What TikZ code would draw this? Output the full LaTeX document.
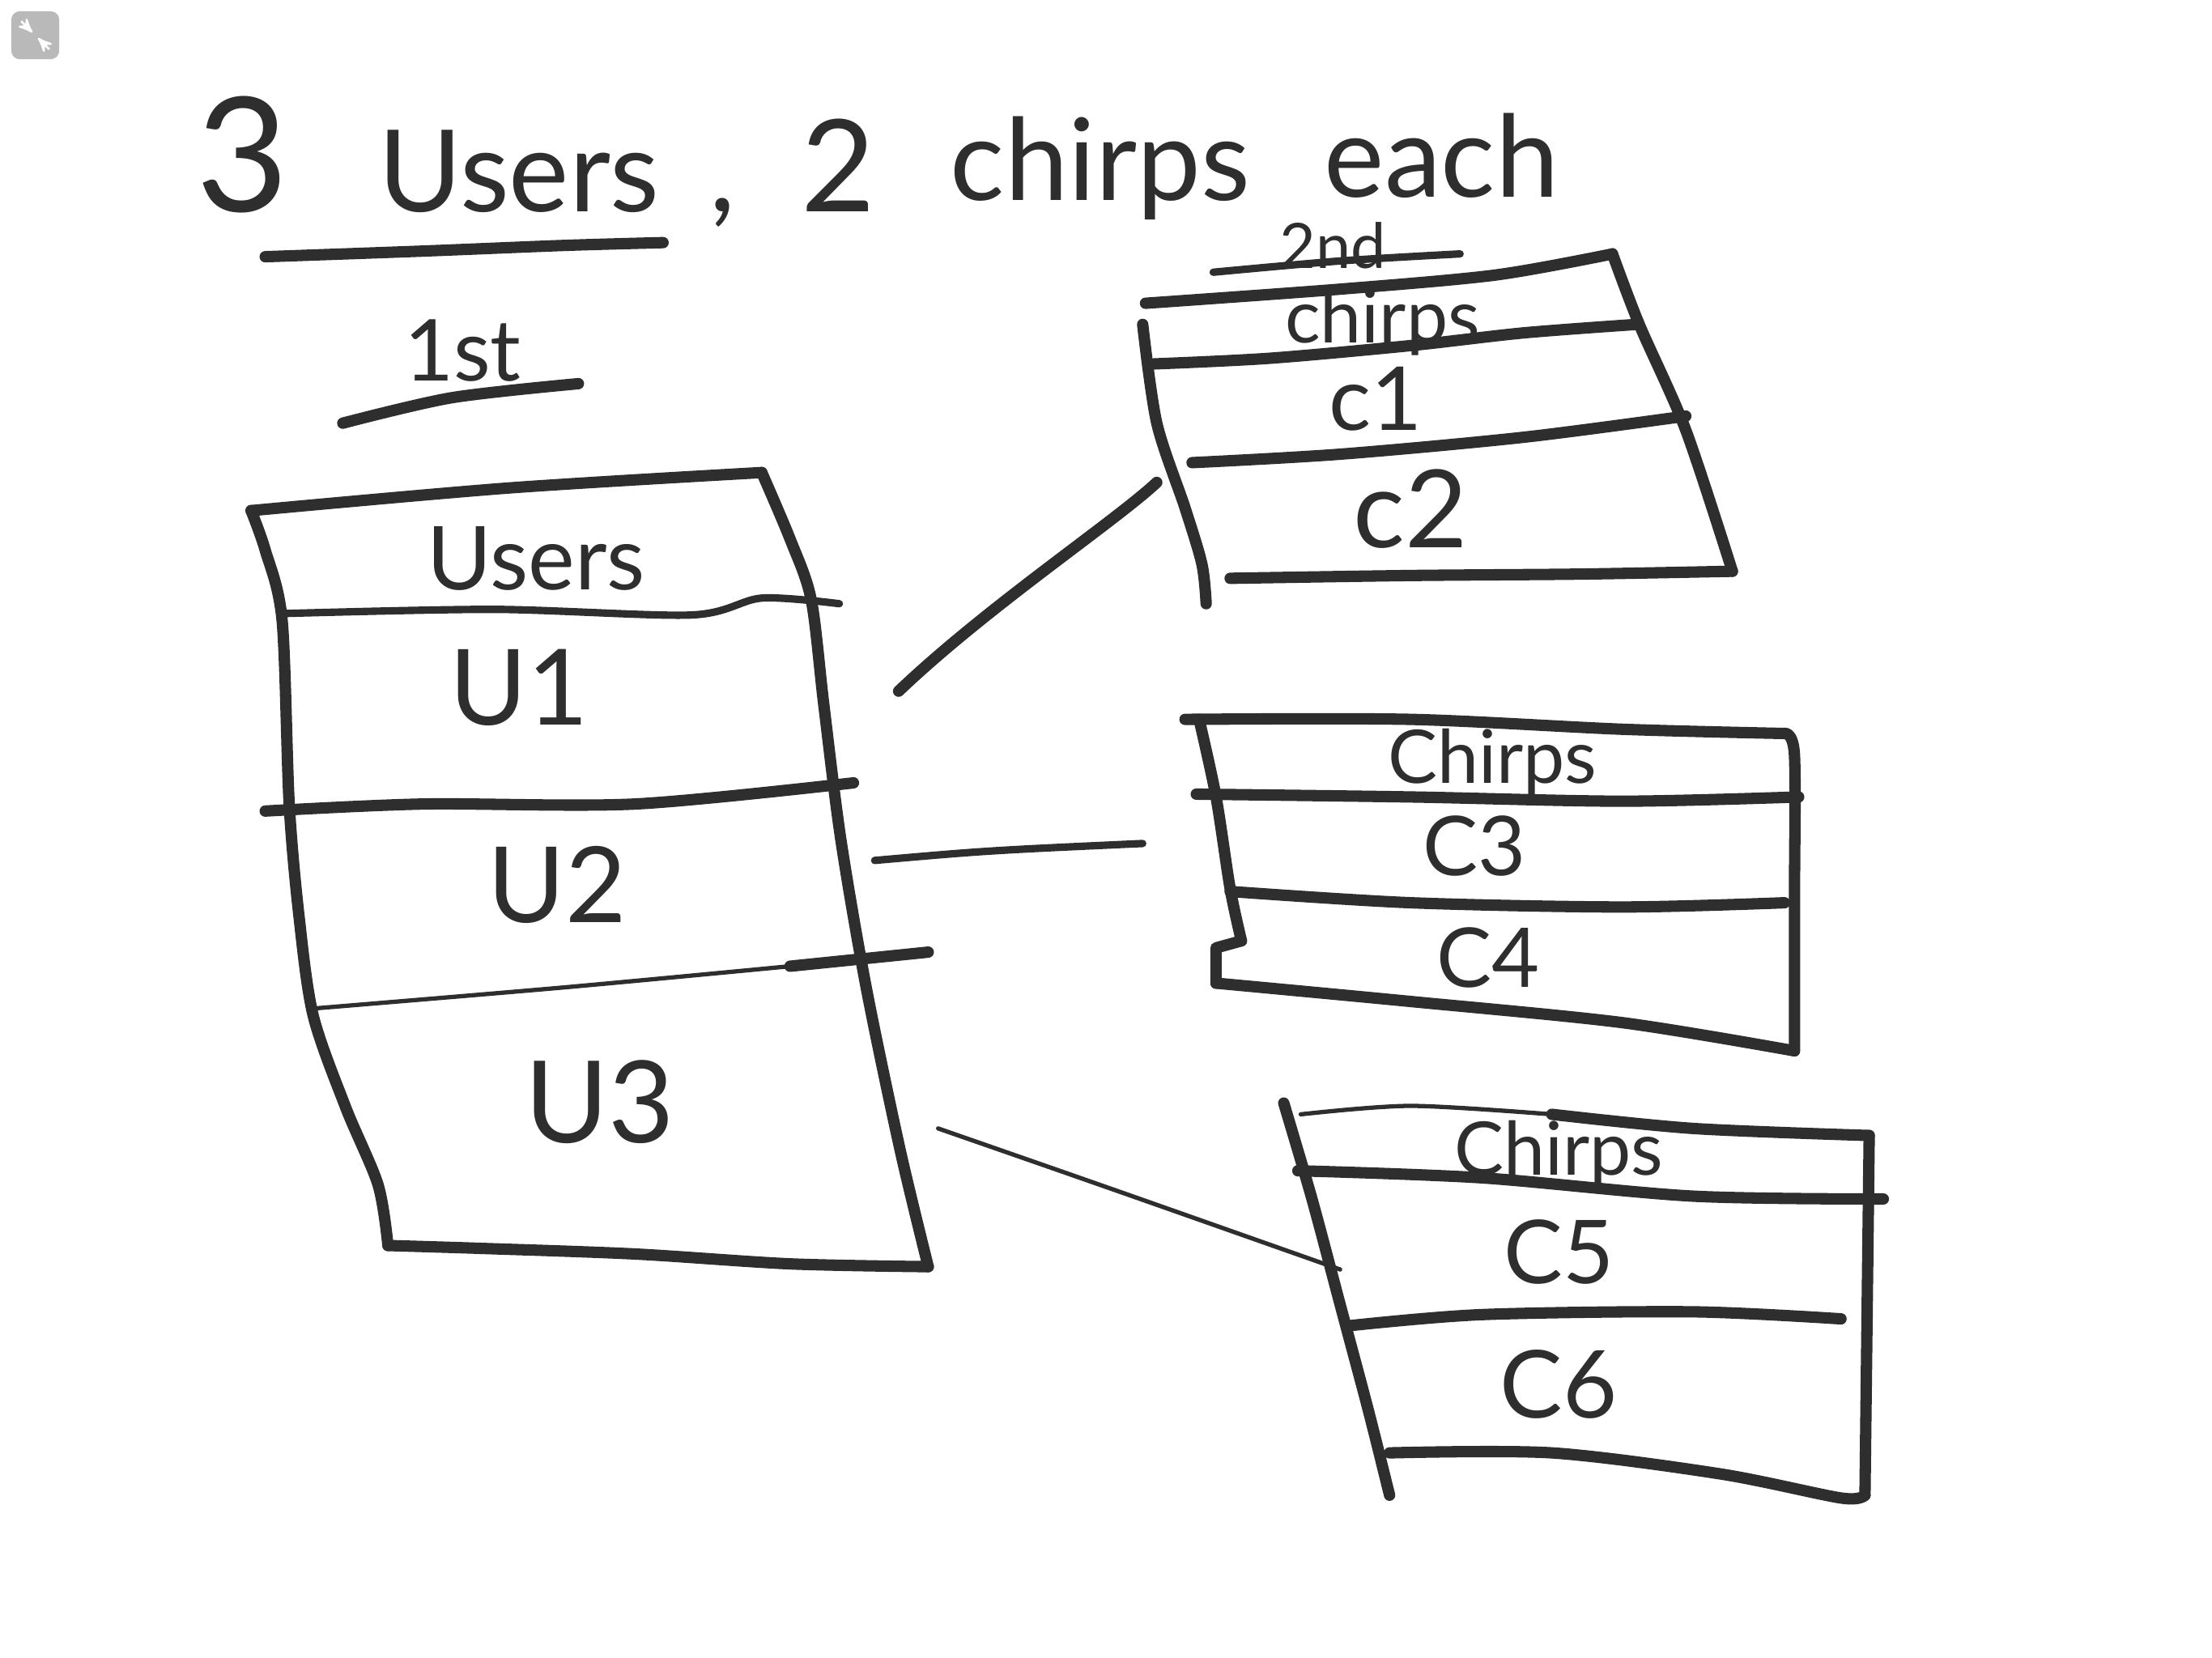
\documentclass[tikz,border=0pt]{standalone}
\usepackage{fontspec}
\setmainfont{Lato}
\usetikzlibrary{arrows}
\definecolor{ink}{HTML}{2E2E2E}
\tikzset{
	pen_thick/.style = {
		draw=ink,
		line width=4pt,
		line cap=round,
		line join=round
	},
	pen_mid/.style = {
		pen_thick,
		line width=2.6pt
	},
	pen_thin/.style = {
		pen_thick,
		line width=1.5pt
	},
	hand/.style = {
		text=ink,
		inner sep=0pt,
		anchor=base
	},
	hand_title/.style = {
		hand,
		font=\fontsize{40}{44}\selectfont
	},
	hand_cell/.style = {
		hand,
		font=\fontsize{31}{34}\selectfont
	},
	hand_head/.style = {
		hand,
		font=\fontsize{26}{28}\selectfont
	},
	hand_small/.style = {
		hand,
		font=\fontsize{22}{24}\selectfont
	},
}
\begin{document}
\begin{tikzpicture}[x=0.017423cm, y=-0.017423cm]
\useasboundingbox (0,0) rectangle (1568,1175);
\fill[white] (0,0) rectangle (1568,1175);
% window icon
\fill[gray!55, rounded corners=3pt] (8,8) rectangle (42,42);
\draw[white, line width=0.8pt, ->, >=stealth'] (15,15) -- (23,23);
\draw[white, line width=0.8pt, ->, >=stealth'] (35,35) -- (27,27);

% title
\node[hand_title, font=\fontsize{56}{60}\selectfont] (t_three) at (172,150) {3};
\node[hand_title] (t_users) at (368,150) {Users};
\node[hand_title] (t_comma) at (512,150) {,};
\node[hand_title, font=\fontsize{45}{48}\selectfont] (t_two) at (594,150) {2};
\node[hand_title] (t_chirps) at (780,142) {chirps};
\node[hand_title] (t_each) at (1022,140) {each};
\draw[pen_thick] plot[smooth] coordinates {(188,182) (300,178) (400,174) (470,172)};

% 1st: users table
\node[hand_title, font=\fontsize{30}{32}\selectfont] (l_first) at (328,270) {1st};
\draw[pen_thick] plot[smooth] coordinates {(243,300) (320,282) (410,272)};
\draw[pen_thick] plot[smooth] coordinates {(178,362) (360,346) (540,335)};
\draw[pen_thick] plot[smooth] coordinates {(540,335) (560,382) (575,425) (584,500) (596,595) (614,700) (638,815) (658,898)};
\draw[pen_thick] plot[smooth] coordinates {(658,898) (560,896) (450,889) (340,885) (275,883)};
\draw[pen_thick] plot[smooth] coordinates {(275,883) (268,840) (245,785) (222,720) (212,650) (205,570) (200,440) (188,390) (178,362)};
\draw[pen_mid] plot[smooth] coordinates {(200,435) (350,432) (490,436) (540,424) (595,428)};
\draw[pen_thick] plot[smooth] coordinates {(188,575) (300,570) (450,570) (605,555)};
\draw[pen_thin] plot[smooth] coordinates {(222,715) (400,700) (560,685)};
\draw[pen_thick] (560,685) -- (658,675);
\node[hand_cell] (u_head) at (380,418) {Users};
\node[hand_cell, font=\fontsize{37}{40}\selectfont] (u_one) at (368,514) {U1};
\node[hand_cell, font=\fontsize{37}{40}\selectfont] (u_two) at (395,654) {U2};
\node[hand_cell, font=\fontsize{40}{42}\selectfont] (u_three) at (425,810) {U3};

% 2nd: chirps tables
\node[hand_small] (l_second) at (945,190) {2nd};
\draw[pen_mid] plot[smooth] coordinates {(860,193) (950,185) (1035,180)};
% chirps c1 c2
\draw[pen_thick] plot[smooth] coordinates {(812,215) (950,205) (1060,195) (1143,180)};
\draw[pen_thick] plot[smooth] coordinates {(1143,180) (1162,230) (1195,305) (1228,405)};
\draw[pen_thick] plot[smooth] coordinates {(872,410) (1000,408) (1120,407) (1228,405)};
\draw[pen_thick] plot[smooth] coordinates {(810,230) (820,300) (840,360) (852,400) (855,428)};
\draw[pen_thick] plot[smooth] coordinates {(818,258) (900,254) (1000,245) (1080,236) (1160,230)};
\draw[pen_thick] plot[smooth] coordinates {(845,328) (950,322) (1080,310) (1195,295)};
\node[hand_head] (c_head_one) at (980,243) {chirps};
\node[hand_cell] (c_one) at (975,305) {c1};
\node[hand_cell, font=\fontsize{38}{40}\selectfont] (c_two) at (1000,388) {c2};
% chirps c3 c4
\draw[pen_thick] plot[smooth] coordinates {(840,510) (1000,510) (1150,517) (1265,520)};
\draw[pen_thick] plot[smooth] coordinates {(1265,520) (1272,535) (1272,640) (1272,745)};
\draw[pen_thick] plot[smooth] coordinates {(862,697) (1000,710) (1150,725) (1272,745)};
\draw[pen_thick] plot[smooth] coordinates {(850,510) (862,565) (872,630) (880,667)};
\draw[pen_thick] (880,667) -- (862,672) -- (862,697);
\draw[pen_thick] plot[smooth] coordinates {(848,563) (1000,565) (1150,568) (1275,565)};
\draw[pen_thick] plot[smooth] coordinates {(872,632) (1000,640) (1150,643) (1265,640)};
\node[hand_head] (c_head_two) at (1058,555) {Chirps};
\node[hand_cell, font=\fontsize{29}{30}\selectfont] (c_three) at (1045,621) {C3};
\node[hand_cell, font=\fontsize{29}{30}\selectfont] (c_four) at (1055,700) {C4};
% chirps c5 c6
\draw[pen_thin] plot[smooth] coordinates {(922,790) (1000,784) (1100,790)};
\draw[pen_thick] plot[smooth] coordinates {(1100,790) (1200,800) (1325,805)};
\draw[pen_thick] (1325,805) -- (1322,1060);
\draw[pen_thick] plot[smooth] coordinates {(985,1030) (1100,1030) (1220,1045) (1305,1062) (1322,1060)};
\draw[pen_thick] plot[smooth] coordinates {(910,782) (930,850) (950,925) (970,1000) (985,1060)};
\draw[pen_thick] plot[smooth] coordinates {(920,830) (1050,835) (1200,848) (1335,850)};
\draw[pen_thick] plot[smooth] coordinates {(955,940) (1050,932) (1200,930) (1305,935)};
\node[hand_head] (c_head_three) at (1105,833) {Chirps};
\node[hand_cell] (c_five) at (1105,910) {C5};
\node[hand_cell, font=\fontsize{33}{35}\selectfont] (c_six) at (1105,1005) {C6};

% links users -> chirps
\coordinate (u1_out) at (637,490);
\coordinate (c1_in) at (820,342);
\coordinate (u2_out) at (620,610);
\coordinate (c3_in) at (810,598);
\coordinate (u3_out) at (665,800);
\coordinate (c5_in) at (950,900);
\draw[pen_thick] (u1_out) .. controls (700,430) and (790,370) .. (c1_in);
\draw[pen_mid] (u2_out) .. controls (700,603) .. (c3_in);
\draw[pen_thin] (u3_out) .. controls (780,840) .. (c5_in);
\end{tikzpicture}
\end{document}
